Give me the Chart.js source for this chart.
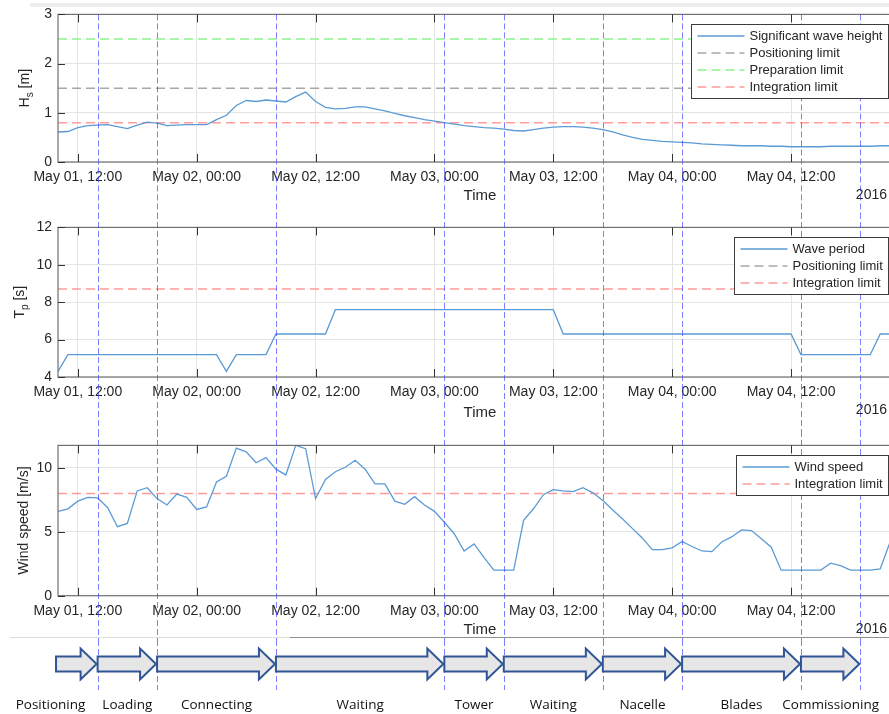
<!DOCTYPE html>
<html lang="en">
<head>
    <meta charset="UTF-8">
    <title>Installation sequence and metocean conditions</title>
    <script src="https://cdn.jsdelivr.net/npm/chart.js"></script>
    <style>
        html, body { margin: 0; padding: 0; background: #fff; overflow: hidden; width: 889px; height: 714px; }
        canvas { position: absolute; left: 0; }
        .rule { position: absolute; height: 1px; }
    </style>
</head>
<body>
    <canvas id="hsChart" width="910" height="213" style="top:0"></canvas>
    <canvas id="tpChart" width="910" height="218" style="top:213px"></canvas>
    <canvas id="windChart" width="910" height="209" style="top:431px"></canvas>
    <canvas id="phaseChart" width="910" height="74" style="top:640px"></canvas>
    <div class="rule" style="top:3px;left:30px;width:859px;height:4px;background:#ededed"></div>
    <div class="rule" style="top:637px;left:10px;width:280px;background:#dcdcdc"></div>
    <div class="rule" style="top:637px;left:290px;width:599px;background:#8f8f8f"></div>

    <script>
        // time is in hours since 2016-05-01 00:00
        const xMin = 10, xMax = 95.2;
        const xTickHours = [12, 24, 36, 48, 60, 72, 84];
        const xTickLabels = ['May 01, 12:00', 'May 02, 00:00', 'May 02, 12:00', 'May 03, 00:00',
                             'May 03, 12:00', 'May 04, 00:00', 'May 04, 12:00'];

        // significant wave height [m], hourly from May 01 10:00
        const hsStart = 10;
        const hsValues = [
            0.61, 0.62, 0.70, 0.74, 0.75, 0.76, 0.72, 0.68, 0.75, 0.81,
            0.79, 0.74, 0.75, 0.76, 0.76, 0.76, 0.86, 0.95, 1.15, 1.25,
            1.23, 1.26, 1.24, 1.22, 1.33, 1.42, 1.23, 1.11, 1.08, 1.09,
            1.12, 1.12, 1.08, 1.04, 0.99, 0.94, 0.90, 0.86, 0.83, 0.80,
            0.77, 0.74, 0.72, 0.70, 0.69, 0.67, 0.64, 0.63, 0.66, 0.69,
            0.71, 0.72, 0.72, 0.71, 0.69, 0.66, 0.61, 0.55, 0.50, 0.46,
            0.44, 0.42, 0.41, 0.40, 0.39, 0.37, 0.36, 0.35, 0.34, 0.33,
            0.33, 0.33, 0.32, 0.32, 0.31, 0.31, 0.31, 0.31, 0.32, 0.32,
            0.32, 0.32, 0.32, 0.33, 0.33, 0.33
        ];
        const hsLimitNames = ['Positioning limit', 'Preparation limit', 'Integration limit'];
        const hsLimitValues = [1.5, 2.5, 0.8];
        const hsTicks = [0, 1, 2, 3];

        // peak wave period [s], corner points
        const tpHours = [10, 11, 26, 27, 28, 31, 32, 37, 38, 60, 61, 84, 85, 92, 93, 96];
        const tpValues = [4.3, 5.2, 5.2, 4.3, 5.2, 5.2, 6.3, 6.3, 7.6, 7.6, 6.3, 6.3, 5.2, 5.2, 6.3, 6.3];
        const tpLimitNames = ['Positioning limit', 'Integration limit'];
        const tpLimitValues = [13, 8.7];
        const tpTicks = [4, 6, 8, 10, 12];

        // wind speed [m/s], hourly from May 01 10:00
        const windStart = 10;
        const windValues = [
            6.6, 6.8, 7.4, 7.7, 7.65, 6.9, 5.4, 5.65, 8.2, 8.45,
            7.6, 7.1, 7.95, 7.7, 6.75, 6.95, 8.9, 9.35, 11.55, 11.25,
            10.4, 10.8, 9.9, 9.45, 11.76, 11.5, 7.6, 9.1, 9.7, 10.05,
            10.6, 9.9, 8.75, 8.75, 7.4, 7.15, 7.75, 7.1, 6.6, 5.75,
            4.85, 3.5, 4.05, 3.0, 2.0, 2.0, 2.0, 5.9, 6.8, 7.9,
            8.3, 8.2, 8.15, 8.45, 8.05, 7.45, 6.7, 6.0, 5.25, 4.5,
            3.6, 3.6, 3.75, 4.25, 3.85, 3.5, 3.45, 4.2, 4.6, 5.15,
            5.1, 4.45, 3.8, 2.0, 2.0, 2.0, 2.0, 2.0, 2.55, 2.35,
            2.0, 2.0, 2.0, 2.1, 4.2, 4.6
        ];
        const windLimitNames = ['Integration limit'];
        const windLimitValues = [8];
        const windTicks = [0, 5, 10];

        // installation phases, bounds in hours
        const phaseNames = ['Positioning', 'Loading', 'Connecting', 'Waiting', 'Tower',
                            'Waiting', 'Nacelle', 'Blades', 'Commissioning'];
        const phaseBounds = [9.8, 14, 20, 32, 49, 55, 65, 73, 85, 91];

        const axisFont = '"Liberation Sans", Arial, sans-serif';
        const textColor = '#262626';
        const gridColor = '#e4e4e4';
        const seriesColor = '#5b9bd5';
        const limitColors = {
            'Positioning limit': '#a8a8a8',
            'Preparation limit': '#8ef28e',
            'Integration limit': '#ff9c9c'
        };

        function hourly(start, values) {
            return values.map((v, i) => ({ x: start + i, y: v }));
        }

        function limitSets(names, values) {
            return names.map((n, i) => ({
                label: n,
                data: [{ x: xMin, y: values[i] }, { x: xMax, y: values[i] }],
                borderColor: limitColors[n],
                borderWidth: 1.5,
                borderDash: [9, 5],
                pointRadius: 0
            }));
        }

        function seriesSet(label, data) {
            return { label: label, data: data, borderColor: seriesColor, borderWidth: 1.3, pointRadius: 0, tension: 0 };
        }

        // MATLAB-like box with inward ticks
        const boxAxes = {
            id: 'boxAxes',
            afterDatasetsDraw(chart) {
                const { ctx, chartArea: a, scales } = chart;
                if (!scales.y || !scales.y.options.display) return;
                ctx.save();
                ctx.strokeStyle = '#707070';
                ctx.lineWidth = 1.2;
                ctx.strokeRect(a.left, a.top, a.right - a.left, a.bottom - a.top);
                ctx.strokeStyle = '#333';
                ctx.lineWidth = 1;
                ctx.beginPath();
                scales.x.ticks.forEach(t => {
                    const px = Math.round(scales.x.getPixelForValue(t.value)) + 0.5;
                    ctx.moveTo(px, a.top); ctx.lineTo(px, a.top + 8);
                    ctx.moveTo(px, a.bottom); ctx.lineTo(px, a.bottom - 8);
                });
                scales.y.ticks.forEach(t => {
                    const py = Math.round(scales.y.getPixelForValue(t.value)) + 0.5;
                    ctx.moveTo(a.left, py); ctx.lineTo(a.left + 7, py);
                });
                ctx.stroke();
                ctx.restore();
            }
        };

        // dashed blue lines at the phase changes
        const phaseLines = {
            id: 'phaseLines',
            afterDatasetsDraw(chart, args, opts) {
                const { ctx, chartArea: a, scales } = chart;
                const top = opts.fromArea ? a.top : 0;
                const bottom = opts.bottom != null ? opts.bottom : chart.height;
                ctx.save();
                ctx.strokeStyle = 'rgba(70, 70, 255, 0.7)';
                ctx.lineWidth = 1;
                ctx.setLineDash([6, 3]);
                ctx.beginPath();
                phaseBounds.slice(1).forEach(h => {
                    const px = Math.round(scales.x.getPixelForValue(h)) + 0.5;
                    ctx.moveTo(px, top); ctx.lineTo(px, bottom);
                });
                ctx.stroke();
                ctx.restore();
            }
        };

        // rotated y title with subscript (H_s) and the year label
        const axisText = {
            id: 'axisText',
            afterDraw(chart, args, opts) {
                if (!opts.text) return;
                const { ctx, chartArea: a } = chart;
                const parts = [];
                const m = opts.text.match(/^(.*)_(.)(.*)$/);
                if (m) { parts.push([m[1], false], [m[2], true], [m[3], false]); } else { parts.push([opts.text, false]); }
                ctx.save();
                ctx.fillStyle = textColor;
                ctx.textBaseline = 'middle';
                const widths = parts.map(p => {
                    ctx.font = (p[1] ? '10px ' : '14px ') + axisFont;
                    return ctx.measureText(p[0]).width;
                });
                const total = widths.reduce((s, w) => s + w, 0);
                ctx.translate(opts.x, (a.top + a.bottom) / 2);
                ctx.rotate(-Math.PI / 2);
                let cx = -total / 2;
                parts.forEach((p, i) => {
                    ctx.font = (p[1] ? '10px ' : '14px ') + axisFont;
                    ctx.fillText(p[0], cx, p[1] ? 5 : 0);
                    cx += widths[i];
                });
                ctx.restore();
                ctx.save();
                ctx.font = '14px ' + axisFont;
                ctx.fillStyle = textColor;
                ctx.textAlign = 'right';
                ctx.textBaseline = 'middle';
                ctx.fillText('2016', 887, a.bottom + opts.yearOffset);
                ctx.restore();
            }
        };

        // legend box in the upper right corner of the axes
        const boxLegend = {
            id: 'boxLegend',
            afterDraw(chart) {
                const { ctx, chartArea: a } = chart;
                const items = chart.data.datasets;
                if (!items.length) return;
                ctx.save();
                ctx.font = '13px ' + axisFont;
                const textW = Math.max(...items.map(d => ctx.measureText(d.label).width));
                const w = Math.round(58 + textW + 6), h = items.length * 17 + 6;
                const left = Math.round(888 - w) + 0.5, top = Math.round(a.top + 10) + 0.5;
                ctx.fillStyle = '#fff';
                ctx.fillRect(left, top, w, h);
                ctx.strokeStyle = '#3c3c3c';
                ctx.lineWidth = 1;
                ctx.strokeRect(left, top, w, h);
                items.forEach((d, i) => {
                    const y = top + 11.5 + i * 17;
                    ctx.strokeStyle = d.borderColor;
                    ctx.lineWidth = d.borderWidth;
                    ctx.setLineDash(d.borderDash || []);
                    ctx.beginPath();
                    ctx.moveTo(left + 6, y); ctx.lineTo(left + 53, y);
                    ctx.stroke();
                    ctx.setLineDash([]);
                    ctx.fillStyle = textColor;
                    ctx.textBaseline = 'middle';
                    ctx.fillText(d.label, left + 58, y);
                });
                ctx.restore();
            }
        };

        function xAxis(height, titlePad) {
            return {
                type: 'linear', min: xMin, max: xMax,
                afterBuildTicks: s => { s.ticks = xTickHours.map(v => ({ value: v })); },
                afterFit: s => { s.height = height; },
                grid: { color: gridColor, drawTicks: false },
                border: { display: false },
                ticks: {
                    padding: 7, color: textColor, maxRotation: 0, autoSkip: false,
                    font: { family: axisFont, size: 14 },
                    callback: v => xTickLabels[xTickHours.indexOf(v)]
                },
                title: {
                    display: true, text: 'Time', color: textColor,
                    font: { family: axisFont, size: 15 },
                    padding: { top: 0, bottom: titlePad }
                }
            };
        }

        function yAxis(min, max, ticks) {
            return {
                min: min, max: max,
                afterBuildTicks: s => { s.ticks = ticks.map(v => ({ value: v })); },
                afterFit: s => { s.width = 58; },
                grid: { color: gridColor, drawTicks: false },
                border: { display: false },
                ticks: { padding: 6, color: textColor, font: { family: axisFont, size: 14 } }
            };
        }

        function panel(id, datasets, yScale, xHeight, titlePad, padTop, yTitle, titleX) {
            return new Chart(document.getElementById(id), {
                type: 'line',
                data: { datasets: datasets },
                options: {
                    responsive: false,
                    animation: false,
                    events: [],
                    layout: { padding: { top: padTop, right: 8, left: 0, bottom: 0 } },
                    scales: { x: xAxis(xHeight, titlePad), y: yScale },
                    plugins: {
                        legend: { display: false },
                        tooltip: { enabled: false },
                        phaseLines: { fromArea: padTop < 10 },
                        axisText: { text: yTitle, x: titleX, yearOffset: 33 }
                    }
                },
                plugins: [boxAxes, phaseLines, axisText, boxLegend]
            });
        }

        panel('hsChart',
            [seriesSet('Significant wave height', hourly(hsStart, hsValues))].concat(limitSets(hsLimitNames, hsLimitValues)),
            yAxis(0, 3, hsTicks), 51, 8, 9, 'H_s [m]', 25);

        panel('tpChart',
            [seriesSet('Wave period', tpHours.map((h, i) => ({ x: h, y: tpValues[i] })))].concat(limitSets(tpLimitNames, tpLimitValues)),
            yAxis(4, 12, tpTicks), 54, 9, 13, 'T_p [s]', 20);

        panel('windChart',
            [seriesSet('Wind speed', hourly(windStart, windValues))].concat(limitSets(windLimitNames, windLimitValues)),
            yAxis(0, 11.76, windTicks), 44.3, 1, 13.7, 'Wind speed [m/s]', 24);

        // phase arrows
        const phaseArrows = {
            id: 'phaseArrows',
            afterDraw(chart) {
                const { ctx } = chart;
                const xs = chart.scales.x;
                const midY = 24, body = 7.5, head = 15.5, headLen = 16;
                ctx.save();
                ctx.lineJoin = 'miter';
                phaseNames.forEach((name, i) => {
                    const x0 = xs.getPixelForValue(phaseBounds[i]);
                    const x1 = xs.getPixelForValue(phaseBounds[i + 1]) - 1;
                    ctx.beginPath();
                    ctx.moveTo(x0, midY - body);
                    ctx.lineTo(x1 - headLen, midY - body);
                    ctx.lineTo(x1 - headLen, midY - head);
                    ctx.lineTo(x1, midY);
                    ctx.lineTo(x1 - headLen, midY + head);
                    ctx.lineTo(x1 - headLen, midY + body);
                    ctx.lineTo(x0, midY + body);
                    ctx.closePath();
                    ctx.fillStyle = '#e6e6e6';
                    ctx.fill();
                    ctx.strokeStyle = '#2f5597';
                    ctx.lineWidth = 2;
                    ctx.stroke();
                });
                // labels centred under the arrows, pushed apart where they would collide
                ctx.font = '13.5px "Open Sans", sans-serif';
                ctx.fillStyle = '#111';
                ctx.textBaseline = 'alphabetic';
                const boxes = phaseNames.map((name, i) => {
                    const w = ctx.measureText(name).width;
                    const c = (xs.getPixelForValue(phaseBounds[i]) + xs.getPixelForValue(phaseBounds[i + 1])) / 2;
                    return { name: name, w: w, c: c };
                });
                for (let i = boxes.length - 2; i >= 0; i--) {
                    const limit = boxes[i + 1].c - boxes[i + 1].w / 2 - 17;
                    if (boxes[i].c + boxes[i].w / 2 > limit) boxes[i].c = limit - boxes[i].w / 2;
                }
                ctx.textAlign = 'center';
                boxes.forEach(b => ctx.fillText(b.name, Math.max(b.c, 14 + b.w / 2), 69));
                ctx.restore();
            }
        };

        new Chart(document.getElementById('phaseChart'), {
            type: 'line',
            data: { datasets: [] },
            options: {
                responsive: false,
                animation: false,
                events: [],
                layout: { padding: { top: 0, right: 8, left: 58, bottom: 0 } },
                scales: {
                    x: { type: 'linear', min: xMin, max: xMax, display: false },
                    y: { display: false }
                },
                plugins: {
                    legend: { display: false },
                    tooltip: { enabled: false },
                    phaseLines: { fromArea: false, bottom: 50 }
                }
            },
            plugins: [phaseLines, phaseArrows]
        });
    </script>
</body>
</html>
